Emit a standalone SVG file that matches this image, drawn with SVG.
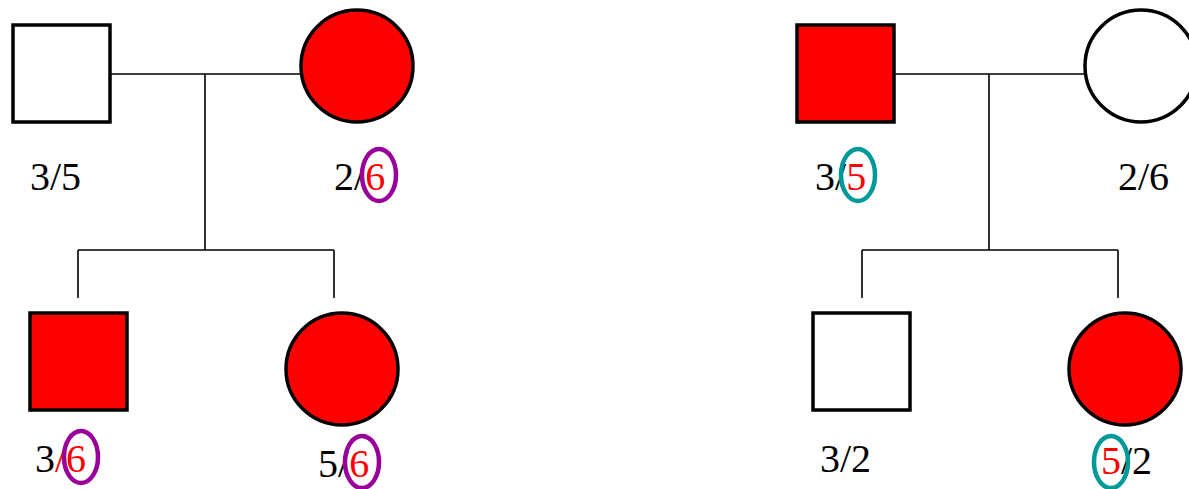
<svg xmlns="http://www.w3.org/2000/svg" width="1189" height="489" viewBox="0 0 1189 489">
<style>
.sym{stroke:#000;stroke-width:3.5}
.aff{fill:#ff0000}
.un{fill:#fff}
.ln{stroke:#000;stroke-width:1.6;fill:none}
text{font-family:'Liberation Serif','Times New Roman',Times,'DejaVu Serif','Noto Serif',serif;font-size:40px;fill:#000}
.r{fill:#ff0000}
.pm{fill:none;stroke:#990099;stroke-width:4.5}
.tm{fill:none;stroke:#009999;stroke-width:4.5}
</style>
<rect width="1189" height="489" fill="#fff"/>
<g id="connectors">
<path class="ln" d="M110 74H300M205 74V250M78 250H334M78 250V298M334 250V298"/>
<path class="ln" d="M894 74H1085M989 74V250M862 250H1118M862 250V298M1118 250V298"/>
</g>
<g id="f1">
<rect class="sym un" x="13" y="25" width="97" height="97"/>
<text x="30" y="190">3/5</text>
</g>
<g id="m1">
<circle class="sym aff" cx="357" cy="66" r="56"/>
<text x="334" y="190">2/<tspan class="r">6</tspan></text>
<ellipse class="pm" cx="379" cy="175" rx="17" ry="26"/>
</g>
<g id="s1">
<rect class="sym aff" x="30" y="313" width="97" height="97"/>
<text x="35" y="472">3<tspan class="r">/6</tspan></text>
<ellipse class="pm" cx="81" cy="457" rx="17" ry="26"/>
</g>
<g id="d1">
<circle class="sym aff" cx="342" cy="369" r="56"/>
<text x="318" y="477">5/<tspan class="r">6</tspan></text>
<ellipse class="pm" cx="362" cy="462" rx="17" ry="26"/>
</g>
<g id="f2">
<rect class="sym aff" x="797" y="25" width="97" height="97"/>
<text x="815" y="190">3/<tspan class="r">5</tspan></text>
<ellipse class="tm" cx="858" cy="175" rx="17" ry="26"/>
</g>
<g id="m2">
<circle class="sym un" cx="1141" cy="66" r="56"/>
<text x="1118" y="190">2/6</text>
</g>
<g id="s2">
<rect class="sym un" x="813" y="313" width="97" height="97"/>
<text x="820" y="472">3/2</text>
</g>
<g id="d2">
<circle class="sym aff" cx="1125" cy="369" r="56"/>
<text x="1101" y="474"><tspan class="r">5</tspan>/2</text>
<ellipse class="tm" cx="1111" cy="462" rx="17" ry="26"/>
</g>
</svg>
